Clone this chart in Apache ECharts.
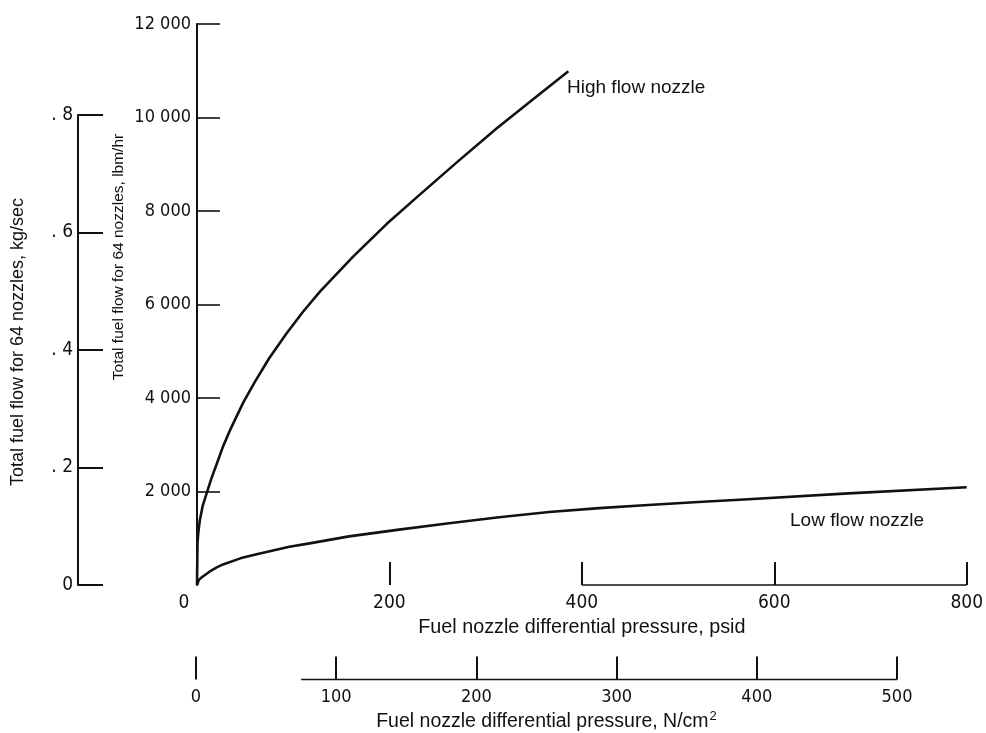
<!DOCTYPE html>
<html>
<head>
<meta charset="utf-8">
<title>Fuel nozzle flow</title>
<script src="https://cdn.jsdelivr.net/npm/echarts@6/dist/echarts.min.js"></script>
<style>
  html, body { margin: 0; padding: 0; background: #fff; }
  #chart { width: 986px; height: 733px; }
</style>
</head>
<body>
<div id="chart"></div>
<script>
// values
var psidHigh = [0, 0.5, 1.5, 3, 6, 10, 15, 20, 27, 35, 48, 60, 75, 93, 110, 128, 162, 197, 231, 270, 311, 350, 386];
var flowHigh = [0, 900, 1150, 1390, 1700, 1960, 2280, 2560, 2960, 3340, 3900, 4340, 4850, 5380, 5840, 6280, 7020, 7720, 8340, 9040, 9760, 10400, 10990];

var psidLow = [0, 2, 5, 13, 20, 27, 45, 62, 96, 117, 158, 210, 262, 314, 366, 418, 469, 521, 573, 677, 800];
var flowLow = [0, 110, 165, 285, 370, 440, 570, 660, 820, 890, 1040, 1185, 1320, 1450, 1560, 1645, 1710, 1775, 1835, 1960, 2090];

var lbmTicks = [2000, 4000, 6000, 8000, 10000, 12000];
var kgTicks = [0, 0.2, 0.4, 0.6, 0.8];
var psidTicks = [200, 400, 600, 800];
var psidLabels = [0, 200, 400, 600, 800];
var ncmTicks = [0, 100, 200, 300, 400, 500];

// visible stretches of the two bottom rules (axis units)
var psidRuleSpan = [400, 800];
var ncmRuleSpan = [75, 500];

var narrow = "'DejaVu Sans Condensed', 'Liberation Sans Narrow', sans-serif";
var plain = "'Liberation Sans', Arial, sans-serif";
var ink = '#111';

function zip(xs, ys) {
  return xs.map(function (x, i) { return [x, ys[i]]; });
}
function spaced(v) {
  return String(v).replace(/\B(?=(\d{3})+(?!\d))/g, ' ');
}

var chart = echarts.init(document.getElementById('chart'));

chart.setOption({
  backgroundColor: '#fff',
  animation: false,
  grid: [
    { left: 197, right: 17, top: 24, bottom: 148 },
    { left: 78, width: 30, top: 115, bottom: 148 },
    { left: 196, right: 89, height: 30, bottom: 53 }
  ],
  xAxis: [
    {
      gridIndex: 0, type: 'value', min: 0, max: 800, interval: 200,
      splitLine: { show: false },
      axisLine: { show: false },
      axisTick: { show: true, inside: true, length: 23, customValues: psidTicks,
        lineStyle: { color: ink, width: 2 } },
      axisLabel: {
        customValues: psidLabels, margin: 9, color: ink,
        fontFamily: narrow, fontSize: 19,
        formatter: function (v) { return v === 0 ? '{z|0}' : String(v); },
        rich: { z: { padding: [0, 26, 0, 0], fontFamily: narrow, fontSize: 19, color: ink } }
      },
      name: 'Fuel nozzle differential pressure, psid',
      nameLocation: 'middle', nameGap: 33,
      nameTextStyle: { color: ink, fontFamily: plain, fontSize: 19.8 }
    },
    {
      gridIndex: 1, type: 'value', show: false, min: 0, max: 1
    },
    {
      gridIndex: 2, type: 'value', min: 0, max: 500, interval: 100,
      splitLine: { show: false },
      axisLine: { show: false },
      axisTick: { show: true, inside: true, length: 23, customValues: ncmTicks,
        lineStyle: { color: ink, width: 2 } },
      axisLabel: { margin: 9, color: ink, fontFamily: narrow, fontSize: 18 },
      name: 'Fuel nozzle differential pressure, N/cm{s|2}',
      nameLocation: 'middle', nameGap: 30,
      nameTextStyle: { color: ink, fontFamily: plain, fontSize: 19.5,
        rich: { s: { fontFamily: plain, fontSize: 13, color: ink, verticalAlign: 'top', padding: [0, 0, 12, 1] } } }
    }
  ],
  yAxis: [
    {
      gridIndex: 0, type: 'value', min: 0, max: 12000, interval: 2000,
      splitLine: { show: false },
      axisLine: { show: true, lineStyle: { color: ink, width: 2 } },
      axisTick: { show: true, inside: true, length: 23, customValues: lbmTicks,
        lineStyle: { color: ink, width: 1.6 } },
      axisLabel: { customValues: lbmTicks, margin: 6, color: ink,
        fontFamily: narrow, fontSize: 18, formatter: spaced }
    },
    {
      gridIndex: 1, type: 'value', min: 0, max: 0.8, interval: 0.2,
      splitLine: { show: false },
      axisLine: { show: true, lineStyle: { color: ink, width: 2 } },
      axisTick: { show: true, inside: true, length: 25, customValues: kgTicks,
        lineStyle: { color: ink, width: 2 } },
      axisLabel: { customValues: kgTicks, margin: 5, color: ink,
        fontFamily: narrow, fontSize: 19,
        formatter: function (v) { return v === 0 ? '0' : '. ' + Math.round(v * 10); } }
    },
    {
      gridIndex: 2, type: 'value', show: false, min: 0, max: 1
    }
  ],
  series: [
    {
      name: 'High flow nozzle', type: 'line', xAxisIndex: 0, yAxisIndex: 0,
      data: zip(psidHigh, flowHigh), smooth: false,
      showSymbol: false, silent: true,
      lineStyle: { color: ink, width: 2.6, join: 'round' }
    },
    {
      name: 'Low flow nozzle', type: 'line', xAxisIndex: 0, yAxisIndex: 0,
      data: zip(psidLow, flowLow), smooth: false,
      showSymbol: false, silent: true,
      lineStyle: { color: ink, width: 2.6, join: 'round' }
    },
    {
      type: 'line', xAxisIndex: 0, yAxisIndex: 0, clip: false,
      data: psidRuleSpan.map(function (x) { return [x, 0]; }),
      showSymbol: false, silent: true,
      lineStyle: { color: ink, width: 1.6 }
    },
    {
      type: 'line', xAxisIndex: 2, yAxisIndex: 2, clip: false,
      data: ncmRuleSpan.map(function (x) { return [x, 0]; }),
      showSymbol: false, silent: true,
      lineStyle: { color: ink, width: 1.6 }
    }
  ],
  graphic: [
    {
      type: 'text', x: 18, y: 342, rotation: Math.PI / 2,
      style: { text: 'Total fuel flow for 64 nozzles, kg/sec', fill: ink,
        font: '18px ' + plain, align: 'center', verticalAlign: 'middle' }
    },
    {
      type: 'text', x: 119, y: 257, rotation: Math.PI / 2,
      style: { text: 'Total fuel flow for 64 nozzles, lbm/hr', fill: ink,
        font: '15.5px ' + plain, align: 'center', verticalAlign: 'middle' }
    },
    {
      type: 'text', x: 567, y: 88,
      style: { text: 'High flow nozzle', fill: ink,
        font: '19px ' + plain, align: 'left', verticalAlign: 'middle' }
    },
    {
      type: 'text', x: 790, y: 521,
      style: { text: 'Low flow nozzle', fill: ink,
        font: '19px ' + plain, align: 'left', verticalAlign: 'middle' }
    }
  ]
});
</script>
</body>
</html>
